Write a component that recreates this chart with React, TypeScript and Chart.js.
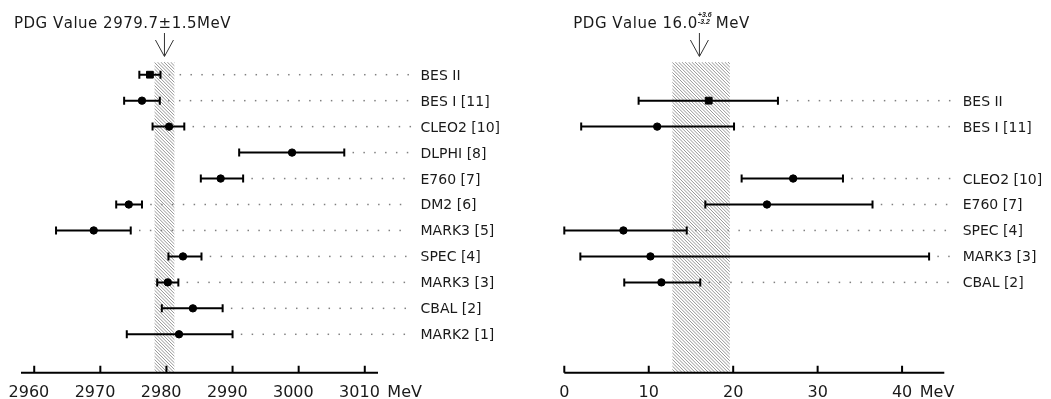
import React, { useEffect, useRef } from "react";
import { Chart, registerables } from "chart.js";
Chart.register(...registerables);

// ---------- Left panel: mass (MeV) ----------
const massLabels = ["BES II", "BES I [11]", "CLEO2 [10]", "DLPHI [8]", "E760 [7]", "DM2 [6]", "MARK3 [5]", "SPEC [4]", "MARK3 [3]", "CBAL [2]", "MARK2 [1]"];
const massRows = [0, 1, 2, 3, 4, 5, 6, 7, 8, 9, 10];
const massValues = [2977.5, 2976.3, 2980.4, 2999.0, 2988.2, 2974.3, 2969.0, 2982.5, 2980.2, 2984.0, 2981.9];
const massLow = [2975.9, 2973.6, 2977.9, 2991.0, 2985.2, 2972.4, 2963.3, 2980.3, 2978.6, 2979.3, 2974.0];
const massHigh = [2979.1, 2979.0, 2982.7, 3006.9, 2991.6, 2976.3, 2974.6, 2985.3, 2981.8, 2988.5, 2990.0];
const massTicks = [2960, 2970, 2980, 2990, 3000, 3010];
const massPdg = 2979.7;
const massPdgBand = [2978.2, 2981.2];

// ---------- Right panel: width (MeV) ----------
const widthLabels = ["BES II", "BES I [11]", "CLEO2 [10]", "E760 [7]", "SPEC [4]", "MARK3 [3]", "CBAL [2]"];
const widthRows = [1, 2, 4, 5, 6, 7, 8];
const widthValues = [17.1, 11.0, 27.1, 24.0, 7.0, 10.2, 11.5];
const widthLow = [8.8, 2.0, 21.0, 16.7, 0.0, 1.9, 7.1];
const widthHigh = [25.3, 20.1, 33.0, 36.5, 14.5, 43.2, 16.1];
const widthTicks = [0, 10, 20, 30, 40];
const widthPdg = 16.0;
const widthPdgBand = [12.8, 19.6];

const FONT = "'DejaVu Sans', sans-serif";
const TEXT = "#1a1a1a";

function drawSpaced(ctx: CanvasRenderingContext2D, text: string, x: number, y: number, sp: number) {
  let cx = x;
  for (const ch of text) {
    ctx.fillText(ch, cx, y);
    cx += ctx.measureText(ch).width + sp;
  }
  return cx - sp;
}

type PanelCfg = {
  width: number;
  offsetX: number;
  padding: { left: number; right: number; top: number; bottom: number };
  xMin: number;
  xMax: number;
  labels: string[];
  rows: number[];
  values: number[];
  low: number[];
  high: number[];
  ticks: number[];
  pdg: number;
  band: number[];
  labelX: number;
  tickLabelShift: number;
  drawTitle: (ctx: CanvasRenderingContext2D) => void;
};

function makePlugin(cfg: PanelCfg) {
  return {
    id: "physDecor",
    beforeDatasetsDraw(chart: any) {
      const { ctx, chartArea, scales } = chart;
      const x = scales.x, y = scales.y;
      const top = chartArea.top, bottom = chartArea.bottom;
      // hatched PDG band
      const bx0 = x.getPixelForValue(cfg.band[0]);
      const bx1 = x.getPixelForValue(cfg.band[1]);
      const h = bottom - top;
      ctx.save();
      ctx.beginPath();
      ctx.rect(bx0, top, bx1 - bx0, h);
      ctx.clip();
      ctx.strokeStyle = "#8a8a8a";
      ctx.lineWidth = 0.9;
      ctx.beginPath();
      for (let s = bx0 - h; s < bx1 + 2; s += 3.3) {
        ctx.moveTo(s, top);
        ctx.lineTo(s + h, bottom);
      }
      ctx.stroke();
      ctx.restore();

      ctx.save();
      for (let i = 0; i < cfg.values.length; i++) {
        const py = y.getPixelForValue(cfg.rows[i]);
        const lo = x.getPixelForValue(cfg.low[i]);
        const hi = x.getPixelForValue(cfg.high[i]);
        // dotted leader
        ctx.fillStyle = "#808080";
        for (let dx = hi + 9; dx <= cfg.labelX - 10; dx += 10.85) {
          ctx.fillRect(dx - 0.75, py - 0.75, 1.5, 1.5);
        }
        // error bar
        ctx.strokeStyle = "#000";
        ctx.lineWidth = 2;
        ctx.beginPath();
        ctx.moveTo(lo, py);
        ctx.lineTo(hi, py);
        ctx.moveTo(lo, py - 4);
        ctx.lineTo(lo, py + 4);
        ctx.moveTo(hi, py - 4);
        ctx.lineTo(hi, py + 4);
        ctx.stroke();
      }
      ctx.restore();
    },
    afterDraw(chart: any) {
      const { ctx, chartArea, scales } = chart;
      const x = scales.x, y = scales.y;
      const bottom = chartArea.bottom;
      ctx.save();
      // axis line
      ctx.strokeStyle = "#000";
      ctx.lineWidth = 2;
      ctx.beginPath();
      ctx.moveTo(chartArea.left, bottom);
      ctx.lineTo(chartArea.right, bottom);
      for (const t of cfg.ticks) {
        const px = x.getPixelForValue(t);
        ctx.moveTo(px, bottom - 7);
        ctx.lineTo(px, bottom);
      }
      ctx.stroke();
      // tick labels
      ctx.fillStyle = TEXT;
      ctx.font = `16px ${FONT}`;
      ctx.textBaseline = "alphabetic";
      cfg.ticks.forEach((t, i) => {
        const px = x.getPixelForValue(t) + cfg.tickLabelShift;
        const s = String(t);
        const w = ctx.measureText(s).width;
        ctx.textAlign = "left";
        ctx.fillText(s, px - w / 2, 397.3);
        if (i === cfg.ticks.length - 1) {
          ctx.fillText("MeV", px + w / 2 + 7.5, 397.3);
        }
      });
      // row labels
      ctx.font = `14px ${FONT}`;
      ctx.textAlign = "left";
      for (let i = 0; i < cfg.labels.length; i++) {
        const py = y.getPixelForValue(cfg.rows[i]);
        ctx.fillText(cfg.labels[i], cfg.labelX, py + 5);
      }
      // arrow
      const ax = x.getPixelForValue(cfg.pdg);
      ctx.strokeStyle = "#333";
      ctx.lineWidth = 1;
      ctx.beginPath();
      ctx.moveTo(ax, 33);
      ctx.lineTo(ax, 56);
      ctx.moveTo(ax - 9, 40);
      ctx.lineTo(ax, 56.5);
      ctx.lineTo(ax + 9, 40);
      ctx.stroke();
      // title
      cfg.drawTitle(ctx);
      ctx.restore();
    },
  };
}

function Panel({ cfg }: { cfg: PanelCfg }) {
  const ref = useRef<HTMLCanvasElement | null>(null);
  useEffect(() => {
    if (!ref.current) return;
    const chart = new Chart(ref.current, {
      type: "scatter",
      data: {
        datasets: [
          {
            data: cfg.values.map((v, i) => ({ x: v, y: cfg.rows[i] })),
            pointStyle: (c: any) => (c.dataIndex === 0 ? "rect" : "circle"),
            pointRadius: (c: any) => (c.dataIndex === 0 ? 4.8 : 3.7),
            backgroundColor: "#000",
            borderColor: "#000",
            borderWidth: 1,
          } as any,
        ],
      },
      options: {
        responsive: false,
        animation: false,
        events: [],
        layout: { padding: cfg.padding },
        plugins: { legend: { display: false }, tooltip: { enabled: false } },
        scales: {
          x: { type: "linear", min: cfg.xMin, max: cfg.xMax, display: false },
          y: { type: "linear", min: -0.489, max: 11.479, reverse: true, display: false },
        },
      },
      plugins: [makePlugin(cfg)],
    });
    return () => chart.destroy();
  }, [cfg]);
  return (
    <canvas
      ref={ref}
      width={cfg.width}
      height={399}
      style={{ position: "absolute", left: cfg.offsetX, top: 0, width: cfg.width, height: 399, display: "block" }}
    />
  );
}

const leftCfg: PanelCfg = {
  width: 525,
  offsetX: 0,
  padding: { left: 21, right: 147, top: 62, bottom: 26.3 },
  xMin: 2958,
  xMax: 3012,
  labels: massLabels,
  rows: massRows,
  values: massValues,
  low: massLow,
  high: massHigh,
  ticks: massTicks,
  pdg: massPdg,
  band: massPdgBand,
  labelX: 420.5,
  tickLabelShift: -5.3,
  drawTitle: (ctx) => {
    ctx.fillStyle = TEXT;
    ctx.font = `15px ${FONT}`;
    ctx.textAlign = "left";
    drawSpaced(ctx, "PDG Value 2979.7±1.5MeV", 14, 28.3, 0.5);
  },
};

const rightCfg: PanelCfg = {
  width: 526,
  offsetX: 525,
  padding: { left: 39.3, right: 106.7, top: 62, bottom: 26.3 },
  xMin: 0,
  xMax: 45,
  labels: widthLabels,
  rows: widthRows,
  values: widthValues,
  low: widthLow,
  high: widthHigh,
  ticks: widthTicks,
  pdg: widthPdg,
  band: widthPdgBand,
  labelX: 437.7,
  tickLabelShift: 0,
  drawTitle: (ctx) => {
    ctx.fillStyle = TEXT;
    ctx.font = `15px ${FONT}`;
    ctx.textAlign = "left";
    const end = drawSpaced(ctx, "PDG Value 16.0", 48.3, 27.5, 0.5);
    ctx.font = `italic bold 7px 'Liberation Sans', sans-serif`;
    ctx.fillText("+3.6", end + 0.5, 16.5);
    ctx.fillText("-3.2", end + 0.5, 23.5);
    ctx.font = `15px ${FONT}`;
    drawSpaced(ctx, "MeV", end + 18.5, 27.5, 0.5);
  },
};

export default function App() {
  return (
    <div style={{ position: "absolute", left: 0, top: 0, width: 1051, height: 399, background: "#fff", overflow: "hidden" }}>
      <Panel cfg={leftCfg} />
      <Panel cfg={rightCfg} />
    </div>
  );
}
